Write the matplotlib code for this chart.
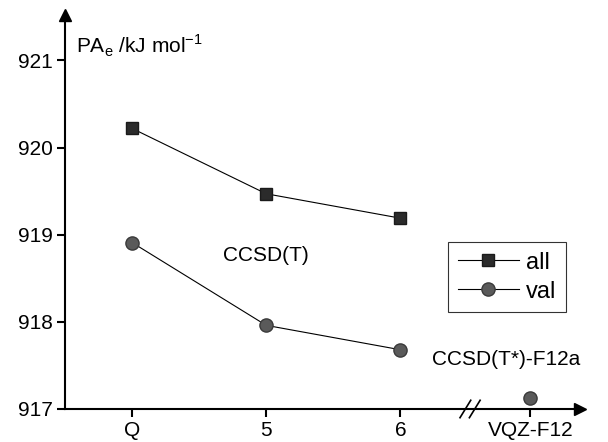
import matplotlib
matplotlib.use("Agg")
import matplotlib.pyplot as plt

plt.rcParams['font.family'] = ['Liberation Sans', 'DejaVu Sans']

# valeurs
basis = ["Q", "5", "6"]
basis_pos = [1, 2, 3]
pa_all = [920.22, 919.47, 919.19]
pa_val = [918.91, 917.96, 917.68]
f12_label = "VQZ-F12"
f12_pos = 3.97
f12_val = 917.13

fig = plt.figure(figsize=(6.08, 4.42), dpi=100)
ax = fig.add_axes([0.107, 0.0747, 0.847, 0.891])

ax.plot(basis_pos, pa_all, color="black", lw=0.8, marker="s", ms=9,
        mfc="#2b2b2b", mec="#1a1a1a", label="all")
ax.plot(basis_pos, pa_val, color="black", lw=0.8, marker="o", ms=9.5,
        mfc="#5a5a5a", mec="#3a3a3a", label="val")
ax.plot([f12_pos], [f12_val], ls="none", marker="o", ms=9.5,
        mfc="#5a5a5a", mec="#3a3a3a")

ax.set_xlim(0.5, 4.34)
ax.set_ylim(917, 921.52)
ax.set_xticks(basis_pos + [f12_pos])
ax.set_xticklabels(basis + [f12_label])
ax.set_yticks([917, 918, 919, 920, 921])

for s in ["top", "right"]:
    ax.spines[s].set_visible(False)
for s in ["left", "bottom"]:
    ax.spines[s].set_linewidth(1.5)
ax.tick_params(axis="both", direction="out", length=6, width=1.5, labelsize=15, pad=3)

# fleches des axes
ax.plot(1, 0, ">k", ms=9, transform=ax.transAxes, clip_on=False)
ax.plot(0, 1, "^k", ms=9, transform=ax.transAxes, clip_on=False)

# coupure de l'axe x
ax.plot([3.46, 3.58], [917, 917], color="white", lw=2.5, clip_on=False, zorder=2.5)
for dx in (-0.035, 0.035):
    ax.plot([3.48 + dx, 3.56 + dx], [916.9, 917.1], color="black", lw=1.2,
            clip_on=False, zorder=3)

ax.text(0.58, 921.17, r"PA$_\mathregular{e}$ /kJ mol$^\mathregular{-1}$", fontsize=15, va="center")
ax.text(2.0, 918.76, "CCSD(T)", fontsize=15, ha="center", va="center")
ax.text(3.79, 917.57, "CCSD(T*)-F12a", fontsize=15, ha="center", va="center")

leg = ax.legend(loc="center left", bbox_to_anchor=(0.744, 0.335), fontsize=17,
                frameon=True, fancybox=False, edgecolor="black", handlelength=2.6,
                handletextpad=0.3, borderpad=0.4, labelspacing=0.3, borderaxespad=0)
leg.get_frame().set_linewidth(0.8)

fig.savefig("out.png", dpi=100)
